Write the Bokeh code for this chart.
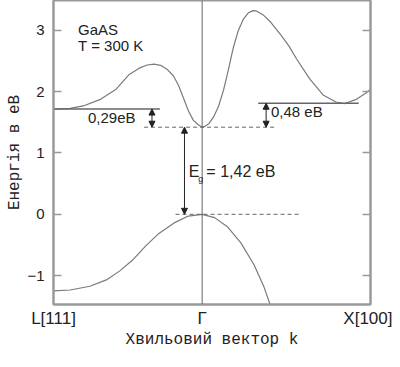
from bokeh.plotting import figure
from bokeh.models import Range1d, FixedTicker, LinearAxis, Label, Arrow, NormalHead, Span
from bokeh.embed import file_html
from bokeh.resources import INLINE

# k-axis positions of symmetry points (Γ = 0, X = 1, L on the left)
k_points = [-0.883, 0.0, 1.0]
k_labels = ["L[111]", "Γ", "X[100]"]
y_ticks = [-1, 0, 1, 2, 3]

# Conduction band, Γ–L branch
cb_left_k = [-0.883, -0.784, -0.706, -0.608, -0.511, -0.433, -0.374, -0.326, -0.287,
             -0.247, -0.209, -0.170, -0.140, -0.111, -0.082, -0.053, -0.023, 0.0]
cb_left_E = [1.715, 1.726, 1.766, 1.869, 2.040, 2.280, 2.382, 2.434, 2.449,
             2.428, 2.366, 2.254, 2.100, 1.895, 1.689, 1.535, 1.460, 1.42]
# Conduction band, Γ–X branch
cb_right_k = [0.0, 0.010, 0.039, 0.068, 0.098, 0.127, 0.156, 0.185, 0.215, 0.244, 0.273,
              0.302, 0.322, 0.361, 0.409, 0.468, 0.516, 0.561, 0.639, 0.718, 0.795,
              0.844, 0.912, 0.971, 1.0]
cb_right_E = [1.42, 1.425, 1.475, 1.588, 1.766, 2.023, 2.357, 2.715, 2.997, 3.177, 3.280,
              3.320, 3.315, 3.254, 3.126, 2.920, 2.742, 2.531, 2.208, 1.946, 1.831,
              1.803, 1.869, 1.972, 2.034]
# Valence band
vb_k = [-0.883, -0.784, -0.667, -0.569, -0.491, -0.413, -0.335, -0.257, -0.160, -0.082,
        0.0, 0.074, 0.152, 0.230, 0.308, 0.367, 0.41]
vb_E = [-1.249, -1.234, -1.172, -1.069, -0.926, -0.746, -0.515, -0.311, -0.131, -0.028,
        0.0, -0.054, -0.208, -0.465, -0.823, -1.182, -1.52]

# Energy levels
E_gap = 1.42
E_L = 1.715
E_X = 1.81
E_V = 0.0
L_level_k = [-0.883, -0.251]
X_level_k = [0.333, 0.93]
gap_dash_k = [-0.345, 0.444]
vb_dash_k = [-0.158, 0.573]
arrow_L_k = -0.298
arrow_X_k = 0.380
arrow_gap_k = -0.105

GRAY = "#7a7a7a"
DARK = "#222222"
FRAME = "#9a9a9a"

p = figure(width=392, height=351, x_range=Range1d(-0.883, 1.0), y_range=Range1d(-1.47, 3.485),
           output_backend="svg", toolbar_location=None,
           min_border_left=53, min_border_right=22, min_border_top=0, min_border_bottom=10)
p.xgrid.visible = False
p.ygrid.visible = False
p.outline_line_color = FRAME
p.outline_line_width = 2
p.background_fill_color = "white"
p.border_fill_color = "white"

# left axis
p.yaxis.ticker = FixedTicker(ticks=y_ticks)
p.yaxis.major_tick_in = 8
p.yaxis.major_tick_out = 0
p.yaxis.minor_tick_line_color = None
p.yaxis.axis_line_color = FRAME
p.yaxis.axis_line_width = 2
p.yaxis.major_tick_line_color = FRAME
p.yaxis.major_tick_line_width = 1.5
p.yaxis.major_label_text_font = "Liberation Sans"
p.yaxis.major_label_text_font_size = "15px"
p.yaxis.major_label_text_color = DARK
p.yaxis.major_label_standoff = 9
p.yaxis.axis_label = "Енергія в еВ"
p.yaxis.axis_label_text_font = "Liberation Mono"
p.yaxis.axis_label_text_font_size = "16px"
p.yaxis.axis_label_text_font_style = "normal"
p.yaxis.axis_label_text_color = DARK
p.yaxis.axis_label_standoff = 0

# right axis (ticks only)
ra = LinearAxis(ticker=FixedTicker(ticks=y_ticks), major_tick_in=8, major_tick_out=0,
                minor_tick_line_color=None, axis_line_color=FRAME, axis_line_width=2,
                major_tick_line_color=FRAME, major_tick_line_width=1.5,
                major_label_text_color=None, major_label_text_font_size="1px",
                major_label_standoff=0)
p.add_layout(ra, "right")

# bottom axis
p.xaxis.ticker = FixedTicker(ticks=k_points)
p.xaxis.major_label_overrides = {k: lab for k, lab in zip(k_points, k_labels)}
p.xaxis.major_tick_in = 0
p.xaxis.major_tick_out = 0
p.xaxis.minor_tick_line_color = None
p.xaxis.axis_line_color = FRAME
p.xaxis.axis_line_width = 2
p.xaxis.major_label_text_font = "Liberation Sans"
p.xaxis.major_label_text_font_size = "17px"
p.xaxis.major_label_text_color = DARK
p.xaxis.major_label_standoff = 4
p.xaxis.axis_label = "Хвильовий вектор k"
p.xaxis.axis_label_text_font = "Liberation Mono"
p.xaxis.axis_label_text_font_size = "16px"
p.xaxis.axis_label_text_font_style = "normal"
p.xaxis.axis_label_text_color = DARK
p.xaxis.axis_label_standoff = 0

# Γ vertical line
p.add_layout(Span(location=0, dimension="height", line_color="#666666", line_width=1))

# bands
p.line(cb_left_k, cb_left_E, line_color=GRAY, line_width=1.2)
p.line(cb_right_k, cb_right_E, line_color=GRAY, line_width=1.2)
p.line(vb_k, vb_E, line_color=GRAY, line_width=1.2)

# levels
p.line(L_level_k, [E_L, E_L], line_color="#666666", line_width=1.5)
p.line(X_level_k, [E_X, E_X], line_color="#666666", line_width=1.5)
p.line(gap_dash_k, [E_gap, E_gap], line_color="#666666", line_width=1, line_dash="4 3")
p.line(vb_dash_k, [E_V, E_V], line_color="#666666", line_width=1, line_dash="4 3")

# arrows
def dbl_arrow(k, lo, hi):
    p.add_layout(Arrow(start=NormalHead(size=6, fill_color=DARK, line_color=DARK),
                       end=NormalHead(size=6, fill_color=DARK, line_color=DARK),
                       x_start=k, y_start=lo, x_end=k, y_end=hi,
                       line_color=DARK, line_width=1))

dbl_arrow(arrow_L_k, E_gap, E_L)
dbl_arrow(arrow_X_k, E_gap, E_X)
dbl_arrow(arrow_gap_k, E_V, E_gap)

def lab(x, y, text, size="15px", font="Liberation Sans", **kw):
    p.add_layout(Label(x=x, y=y, text=text, text_font=font, text_font_size=size,
                       text_color=DARK, text_baseline=kw.pop("baseline", "middle"),
                       text_align=kw.pop("align", "left"), **kw))

lab(-0.737, 3.02, "GaAS")
lab(-0.737, 2.75, "T = 300 K")
lab(-0.678, 1.577, "0,29eB")
lab(0.409, 1.669, "0,48 eB")
lab(-0.080, 0.70, "E", size="16px")
lab(-0.023, 0.58, "g", size="9px")
lab(0.025, 0.70, "= 1,42 eB", size="16px")

open("out.html", "w").write(file_html(p, INLINE))
